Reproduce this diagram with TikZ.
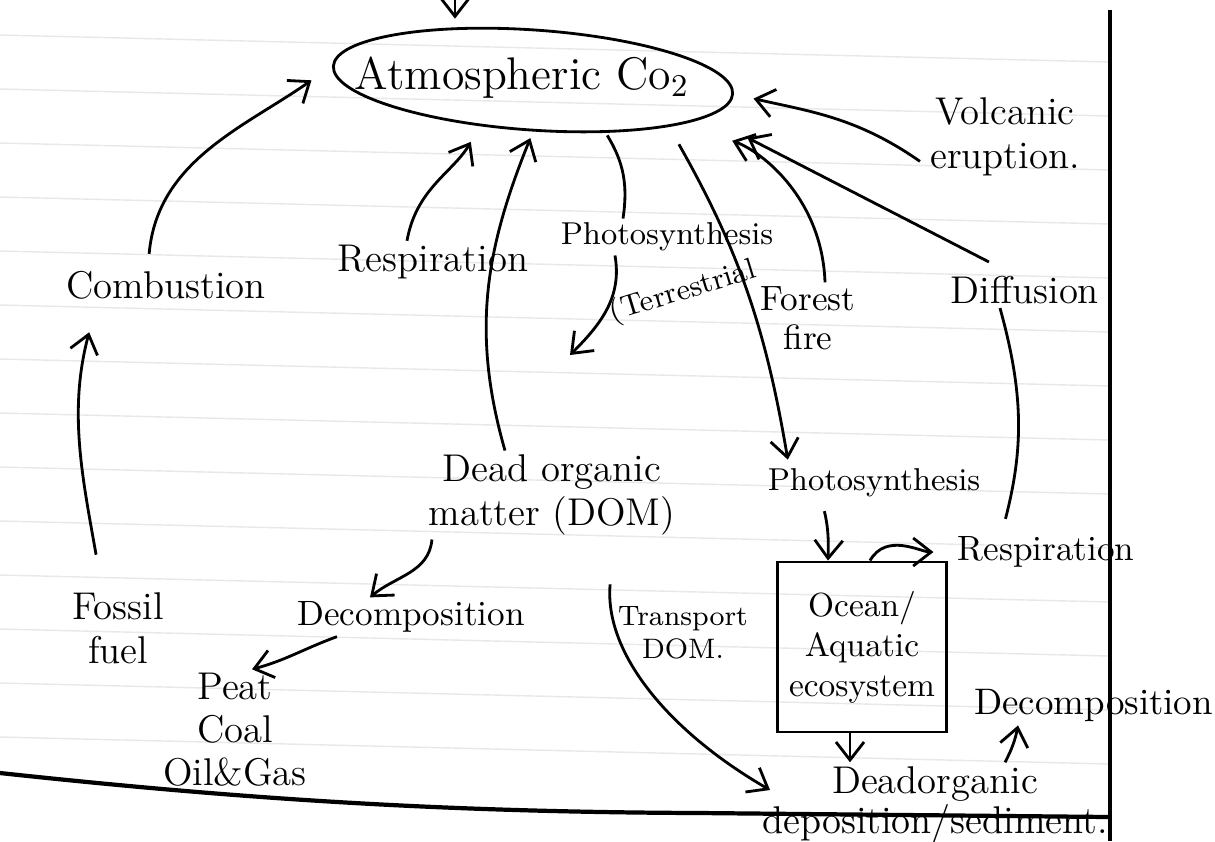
\documentclass[tikz,border=0pt]{standalone}
\usepackage{tikz}
\usetikzlibrary{shapes,arrows.meta,positioning,calc}

\begin{document}
\begin{tikzpicture}[
    x=0.01cm, y=-0.01cm,
    tag/.style={font=\fontsize{11}{12.5}\selectfont, align=center, inner sep=1pt},
    tagsm/.style={tag, font=\fontsize{9}{10.5}\selectfont},
    carbon/.style={ellipse, draw, thick, minimum width=4cm, minimum height=1cm, rotate=-4},
    pool/.style={rectangle, draw, thick, minimum width=1.55cm, minimum height=1.7cm, align=center, font=\fontsize{9.5}{11.4}\selectfont},
    arrow/.style={-{Straight Barb[length=1.8mm,width=2.8mm]}, thick},
    ruled/.style={gray!18, line width=0.4pt}
]
    % notebook page
    \fill[white] (0,0) rectangle (1215,841);
    \useasboundingbox (0,0) rectangle (1215,841);
    \foreach \k in {0,...,13}
        \draw[ruled] (0,35+54*\k) -- (1110,62+54*\k);
    \draw[line width=1pt] (1110,10) -- (1110,841);
    \draw[line width=1.2pt] (0,773) .. controls (250,800) and (450,812) .. (700,813) -- (1110,817);

    % Atmosphere
    \node[carbon] (atm) at (533,80) {};
    \node[tag, font=\fontsize{13}{15}\selectfont] (atmtext) at (522,78) {Atmospheric Co$_2$};

    % Land side
    \node[tag] (comb) at (166,285) {Combustion};
    \node[tag] (respL) at (433,262) {Respiration};
    \node[tagsm] (photoT) at (667,237) {Photosynthesis};
    \node[tag, font=\fontsize{8.5}{10}\selectfont, rotate=17] (terr) at (683,292) {(Terrestrial};
    \node[tag, font=\fontsize{10}{11}\selectfont] (ff) at (808,318) {Forest\\fire};
    \node[tag] (volc) at (1005,137) {Volcanic\\eruption.};
    \node[tag] (diff) at (1025,290) {Diffusion};
    \node[tag] (dom) at (552,495) {Dead organic\\matter (DOM)};
    \node[tag, font=\fontsize{10}{11}\selectfont] (decL) at (411,617) {Decomposition};
    \node[tag] (fossil) at (118,628) {Fossil\\fuel};
    \node[tag, font=\fontsize{11}{12.2}\selectfont] (fuels) at (235,730) {Peat\\Coal\\Oil\&Gas};

    % Ocean side
    \node[tagsm] (photoO) at (874,483) {Photosynthesis};
    \node[tag, font=\fontsize{10}{11}\selectfont] (respO) at (1046,552) {Respiration};
    \node[pool] (ocean) at (862,647) {Ocean/\\Aquatic\\ecosystem};
    \node[tag, font=\fontsize{8}{9.5}\selectfont] (transp) at (683,633) {Transport\\DOM.};
    \node[tag, font=\fontsize{11}{10.5}\selectfont] (deadS) at (935,805) {Deadorganic\\deposition/sediment.};
    \node[tag, anchor=west, font=\fontsize{10.5}{12}\selectfont] (decR) at (970,705) {Decomposition};

    % Into the atmosphere
    \coordinate (offpage) at (455,0);
    \draw[arrow, shorten >=0.1cm] (offpage) -- (offpage |- atm.north);
    \draw[arrow, shorten <=0.13cm, shorten >=0.25cm] ([xshift=-0.18cm]comb.north) to[out=85, in=215] (atm.west);
    \draw[arrow, shorten >=0.18cm] ([xshift=-0.26cm]respL.north) to[out=80, in=240] (atm.225);
    \draw[arrow, shorten >=0.07cm] ([xshift=-0.47cm]dom.north) to[out=106, in=248] (atm.274);
    \draw[arrow, shorten >=0.5cm] ([xshift=0.17cm]ff.north) to[out=92, in=340] (atm.348);
    \draw[arrow, shorten >=0.45cm] ([xshift=-0.36cm,yshift=0.1cm]diff.north) -- (atm.352);
    \draw[arrow, shorten >=0.2cm] ([xshift=-0.85cm,yshift=0.19cm]volc.south) to[out=145, in=347] (atm.east);

    % Terrestrial uptake
    \draw[thick, shorten <=0.03cm] (atm.328) to[bend left=20] ([xshift=-0.44cm]photoT.north);
    \coordinate (landtip) at (570,355);
    \draw[arrow] ([xshift=-0.52cm]photoT.south) to[out=280, in=45] (landtip);

    % Ocean uptake
    \draw[arrow, shorten <=0.2cm, shorten >=0.05cm] (atm.345) to[bend left=10] ([xshift=0.25cm]photoO.north west);
    \draw[arrow, shorten <=0.1cm] ([xshift=-0.52cm]photoO.south) to[bend left=8] ([xshift=-0.34cm]ocean.north);
    \draw[arrow, shorten >=0.2cm] ([xshift=0.08cm]ocean.north) to[out=60, in=180] (respO.west);
    \draw[thick, shorten <=0.14cm] ([xshift=-0.44cm]respO.north) to[bend right=15] ([xshift=-0.25cm]diff.south);

    % Dead organic matter
    \draw[arrow] ([xshift=-1.2cm]dom.south) to[out=265, in=40] ([xshift=-0.41cm]decL.north);
    \draw[arrow] ([xshift=-0.74cm]decL.south) to[out=200, in=15] ([xshift=0.17cm]fuels.north);
    \draw[arrow, shorten <=0.34cm, shorten >=0.3cm] ([xshift=-0.16cm]fossil.north) to[out=100, in=255] ([xshift=-0.69cm]comb.south);
    \draw[arrow, shorten <=0.45cm] ([xshift=0.62cm]dom.south) to[out=265, in=150] ([xshift=0.12cm,yshift=0.15cm]deadS.west);
    \draw[arrow] ([xshift=-0.12cm]ocean.south) -- ([xshift=-0.12cm]ocean.south |- deadS.north);
    \draw[arrow] ([xshift=0.7cm]deadS.north) to[bend right=8] ([xshift=0.48cm]decR.south west);

\end{tikzpicture}
\end{document}
